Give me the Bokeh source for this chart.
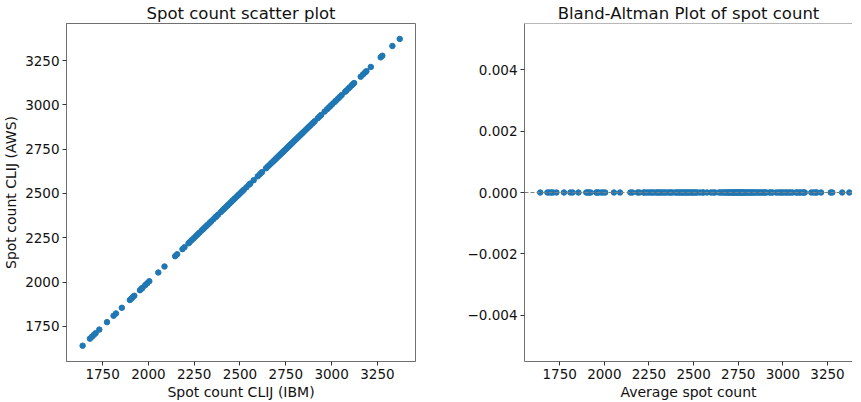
from bokeh.plotting import figure
from bokeh.layouts import row
from bokeh.models import FixedTicker, Span, CustomJSTickFormatter, Range1d
from bokeh.embed import file_html
from bokeh.resources import INLINE

# Spot counts per image (both systems give identical results)
spot_ibm = [1641, 1681, 1692, 1703, 1712, 1732, 1774, 1810, 1823, 1855, 1899, 1907, 1914, 1923,
            1954, 1962, 1968, 1983, 1994, 2005, 2054, 2088, 2146, 2157, 2186, 2197, 2219, 2226,
            2237, 2248, 2259, 2268, 2277, 2290, 2298, 2306, 2315, 2324, 2335, 2343, 2355, 2366,
            2372, 2381, 2396, 2405, 2412, 2421, 2430, 2436, 2444, 2452, 2460, 2467, 2474, 2483,
            2490, 2497, 2505, 2512, 2520, 2535, 2550, 2556, 2575, 2597, 2610, 2620, 2642, 2652,
            2661, 2670, 2678, 2685, 2692, 2698, 2704, 2710, 2716, 2721, 2726, 2731, 2736, 2741,
            2746, 2750, 2755, 2760, 2765, 2770, 2775, 2780, 2785, 2791, 2797, 2803, 2810, 2816,
            2822, 2829, 2836, 2843, 2851, 2860, 2868, 2876, 2884, 2893, 2900, 2908, 2925, 2934,
            2943, 2962, 2975, 2985, 2994, 3003, 3015, 3023, 3035, 3044, 3055, 3074, 3081, 3092,
            3099, 3110, 3117, 3123, 3159, 3172, 3183, 3190, 3214, 3268, 3277, 3332, 3372]
spot_aws = [1641, 1681, 1692, 1703, 1712, 1732, 1774, 1810, 1823, 1855, 1899, 1907, 1914, 1923,
            1954, 1962, 1968, 1983, 1994, 2005, 2054, 2088, 2146, 2157, 2186, 2197, 2219, 2226,
            2237, 2248, 2259, 2268, 2277, 2290, 2298, 2306, 2315, 2324, 2335, 2343, 2355, 2366,
            2372, 2381, 2396, 2405, 2412, 2421, 2430, 2436, 2444, 2452, 2460, 2467, 2474, 2483,
            2490, 2497, 2505, 2512, 2520, 2535, 2550, 2556, 2575, 2597, 2610, 2620, 2642, 2652,
            2661, 2670, 2678, 2685, 2692, 2698, 2704, 2710, 2716, 2721, 2726, 2731, 2736, 2741,
            2746, 2750, 2755, 2760, 2765, 2770, 2775, 2780, 2785, 2791, 2797, 2803, 2810, 2816,
            2822, 2829, 2836, 2843, 2851, 2860, 2868, 2876, 2884, 2893, 2900, 2908, 2925, 2934,
            2943, 2962, 2975, 2985, 2994, 3003, 3015, 3023, 3035, 3044, 3055, 3074, 3081, 3092,
            3099, 3110, 3117, 3123, 3159, 3172, 3183, 3190, 3214, 3268, 3277, 3332, 3372]

count_ticks = [1750, 2000, 2250, 2500, 2750, 3000, 3250]
diff_ticks = [-0.004, -0.002, 0.0, 0.002, 0.004]

avg = [(a + b) / 2 for a, b in zip(spot_ibm, spot_aws)]
diff = [a - b for a, b in zip(spot_ibm, spot_aws)]
mean_diff = sum(diff) / len(diff)

FONT = "DejaVu Sans"
SPINE = "#707070"
DOT = "#1f77b4"


def style_axes(p):
    for ax in (p.xaxis[0], p.yaxis[0]):
        ax.axis_line_color = SPINE
        ax.major_tick_line_color = "#333333"
        ax.major_tick_out = 4
        ax.major_tick_in = 0
        ax.minor_tick_line_color = None
        ax.major_label_text_font = FONT
        ax.major_label_text_font_size = "13.5px"
        ax.major_label_text_color = "#111111"
        ax.axis_label_text_font = FONT
        ax.axis_label_text_font_size = "14px"
        ax.axis_label_text_font_style = "normal"
        ax.axis_label_text_color = "#111111"
        ax.axis_label_standoff = 2
        ax.major_label_standoff = 3
    p.xgrid.visible = False
    p.ygrid.visible = False
    p.title.align = "center"
    p.title.text_font = FONT
    p.title.text_font_size = "16.5px"
    p.title.text_font_style = "normal"
    p.title.text_color = "#111111"
    p.title.standoff = 2


# Left: scatter plot
p1 = figure(output_backend="svg", toolbar_location=None,
            frame_width=349, frame_height=338,
            min_border_left=59, min_border_right=20, min_border_top=18, min_border_bottom=32,
            x_range=Range1d(1553, 3458), y_range=Range1d(1552, 3459),
            title="Spot count scatter plot",
            x_axis_label="Spot count CLIJ (IBM)", y_axis_label="Spot count CLIJ (AWS)")
p1.scatter(spot_ibm, spot_aws, size=5.5, color=DOT, line_color=DOT)
style_axes(p1)
p1.outline_line_color = SPINE
p1.xaxis.ticker = FixedTicker(ticks=count_ticks)
p1.yaxis.ticker = FixedTicker(ticks=count_ticks)
p1.yaxis.axis_label_standoff = 3

# Right: Bland-Altman
p2 = figure(output_backend="svg", toolbar_location=None,
            frame_width=328, frame_height=338,
            min_border_left=89, min_border_right=0, min_border_top=18, min_border_bottom=32,
            x_range=Range1d(1553, 3390), y_range=Range1d(-0.0055, 0.0055),
            title="Bland-Altman Plot of spot count",
            x_axis_label="Average spot count")
p2.add_layout(Span(location=mean_diff, dimension="width", line_color="gray",
                   line_dash="4 2", line_width=1.2))
p2.scatter(avg, diff, size=5.5, color=DOT, line_color=DOT)
style_axes(p2)
p2.outline_line_color = None
p2.add_layout(Span(location=0.0055, dimension="width", line_color=SPINE, line_width=1))
p2.xaxis.ticker = FixedTicker(ticks=count_ticks)
p2.yaxis.ticker = FixedTicker(ticks=diff_ticks)
p2.yaxis.formatter = CustomJSTickFormatter(
    code="return tick.toFixed(3).replace('-', '\u2212');")

layout = row(p1, p2)
open("out.html", "w").write(file_html(layout, INLINE))
